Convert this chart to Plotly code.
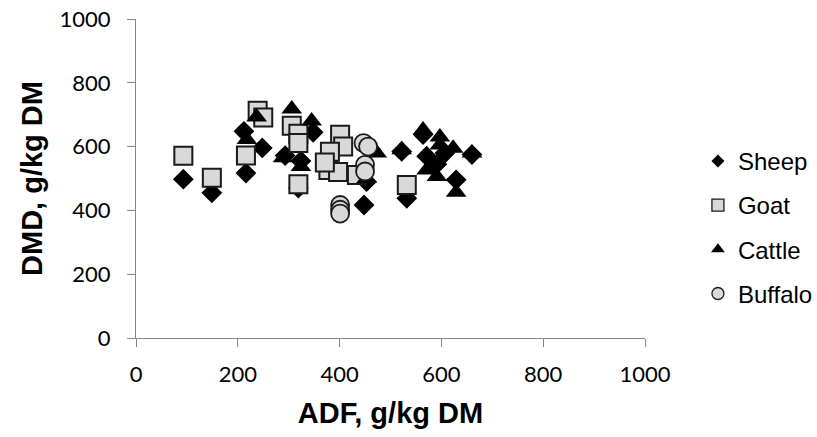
import plotly.graph_objects as go

# ---- data ----
sheep_x = [93, 149, 216, 248, 212, 293, 324, 319, 348, 448, 453, 522, 532, 564, 571, 591, 607, 629, 660]
sheep_y = [498, 455, 517, 596, 648, 572, 555, 470, 645, 417, 490, 585, 438, 638, 570, 545, 580, 496, 575]

goat_x = [93, 149, 216, 239, 250, 306, 319, 319, 319, 401, 407, 381, 378, 397, 434, 371, 532]
goat_y = [571, 502, 572, 712, 691, 665, 640, 611, 482, 637, 600, 584, 527, 520, 511, 550, 480]

cattle_x = [237, 218, 306, 345, 289, 324, 453, 473, 522, 564, 597, 597, 623, 660, 571, 591, 629]
cattle_y = [693, 622, 718, 680, 565, 538, 500, 580, 590, 652, 630, 605, 595, 580, 527, 506, 457]

buffalo_x = [447, 456, 450, 450, 401, 401, 401]
buffalo_y = [611, 600, 543, 522, 417, 402, 390]

series_names = ["Sheep", "Goat", "Cattle", "Buffalo"]
axis_ticks = [0, 200, 400, 600, 800, 1000]

AX = "#868686"
FILL = "#D9D9D9"

styles = {
    "Sheep": dict(symbol="diamond", size=16, color="black", line=dict(color="black", width=0)),
    "Goat": dict(symbol="square", size=18, color=FILL, line=dict(color="#1a1a1a", width=2)),
    "Cattle": dict(symbol="triangle-up", size=18, color="black", line=dict(color="black", width=0)),
    "Buffalo": dict(symbol="circle", size=18, color=FILL, line=dict(color="#1a1a1a", width=1.8)),
}
legend_sizes = {"Sheep": 10, "Goat": 12, "Cattle": 12, "Buffalo": 12}

data = {
    "Sheep": (sheep_x, sheep_y),
    "Goat": (goat_x, goat_y),
    "Cattle": (cattle_x, cattle_y),
    "Buffalo": (buffalo_x, buffalo_y),
}

fig = go.Figure()
for name in series_names:
    xs, ys = data[name]
    fig.add_trace(go.Scatter(x=xs, y=ys, mode="markers", name=name,
                             marker=styles[name], showlegend=False, hoverinfo="x+y"))
for name in series_names:
    st = dict(styles[name])
    st["size"] = legend_sizes[name]
    if name in ("Goat", "Buffalo"):
        st["line"] = dict(color="#1a1a1a", width=1.3)
    fig.add_trace(go.Scatter(x=[None], y=[None], mode="markers", name=name,
                             marker=st, legendgroup=name, showlegend=True))

fig.update_layout(
    width=817, height=437,
    margin=dict(l=136, r=172, t=19, b=99, autoexpand=False),
    paper_bgcolor="white", plot_bgcolor="white",
    font=dict(family="Liberation Sans, Arial", color="black"),
    legend=dict(x=1.104, xanchor="left", y=0.347, yanchor="middle",
                font=dict(family="Liberation Sans, Arial", size=24, color="black"),
                traceorder="grouped", tracegroupgap=10, itemwidth=30,
                bgcolor="rgba(0,0,0,0)"),
    showlegend=True,
)

fig.update_xaxes(
    range=[0, 1000], tickvals=axis_ticks, ticktext=[str(t) for t in axis_ticks],
    showgrid=False, zeroline=False, showline=True, linecolor=AX, linewidth=1.3,
    ticks="outside", ticklen=8, tickcolor=AX, tickwidth=1.3, automargin=False,
    ticklabeloverflow="allow",
    tickfont=dict(family="Lato", size=22, color="black"), ticklabelstandoff=8,
    title=dict(text="<b>ADF, g/kg DM</b>", font=dict(family="Liberation Sans, Arial", size=29, color="black"), standoff=17),
)
fig.update_yaxes(
    range=[0, 1000], tickvals=axis_ticks, ticktext=[str(t) for t in axis_ticks],
    showgrid=False, zeroline=False, showline=True, linecolor=AX, linewidth=1.3,
    ticks="outside", ticklen=8, tickcolor=AX, tickwidth=1.3, automargin=False,
    ticklabeloverflow="allow",
    tickfont=dict(family="Lato", size=22, color="black"), ticklabelstandoff=12,
    title=dict(text="<b>DMD, g/kg DM</b>", font=dict(family="Liberation Sans, Arial", size=29, color="black"), standoff=8),
)

# remove the default 8px page margin so the figure sits at the window's corner
fig.write_html("out.html", config={"displayModeBar": False},
               post_script="document.body.style.margin='0';")
